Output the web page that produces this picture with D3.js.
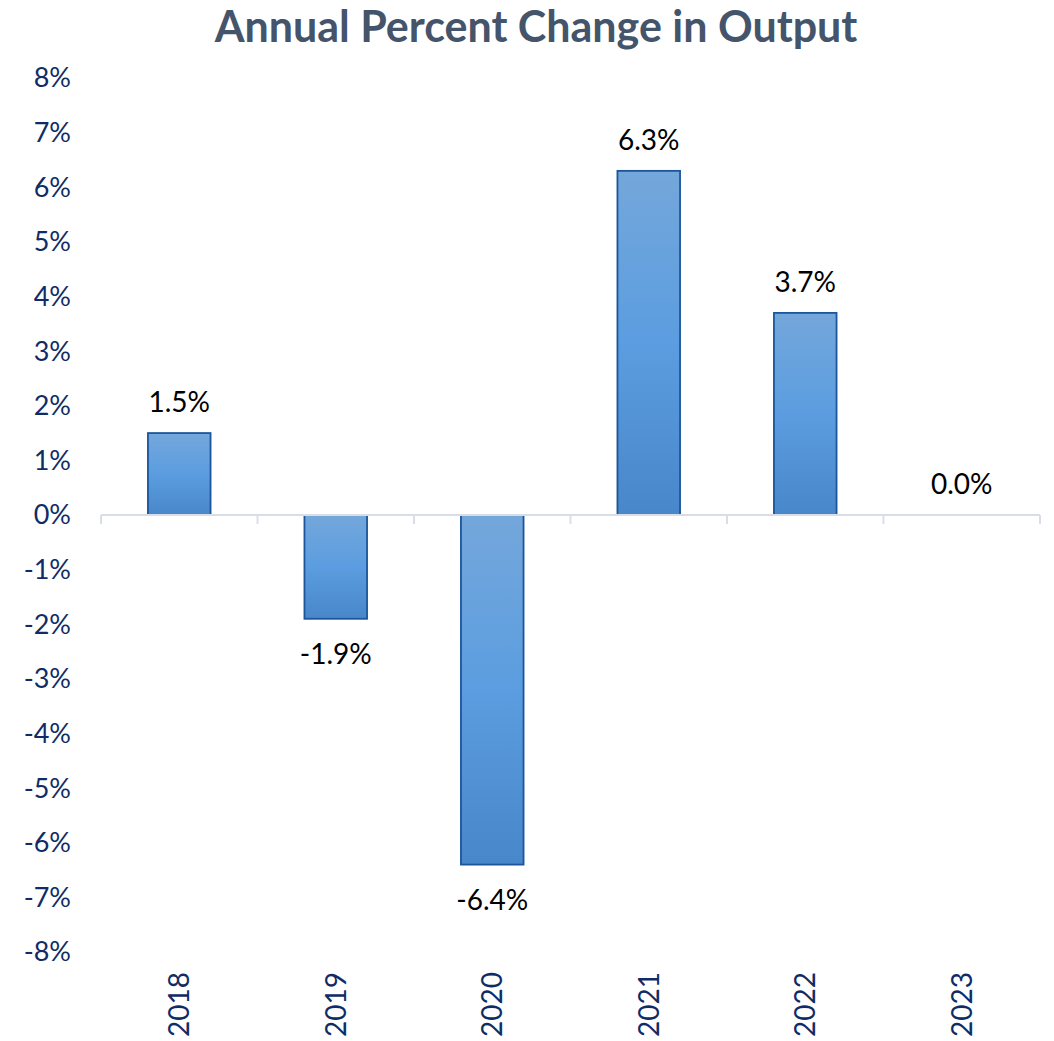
<!DOCTYPE html>
<html>
<head>
<meta charset="utf-8">
<script src="https://cdn.jsdelivr.net/npm/d3@7"></script>
<style>
  body { margin: 0; background: #fff; }
  svg { display: block; font-family: Lato, "Open Sans", sans-serif; }
</style>
</head>
<body>
<svg></svg>
<script>
const years = ["2018", "2019", "2020", "2021", "2022", "2023"];
const change = [1.5, -1.9, -6.4, 6.3, 3.7, 0.0];
const yTicks = [-8, -7, -6, -5, -4, -3, -2, -1, 0, 1, 2, 3, 4, 5, 6, 7, 8];

const width = 1054, height = 1041;
const svg = d3.select("svg").attr("width", width).attr("height", height);

const defs = svg.append("defs");
const grad = defs.append("linearGradient")
    .attr("id", "barFill")
    .attr("x1", 0).attr("y1", 0).attr("x2", 0).attr("y2", 1);
grad.append("stop").attr("offset", "0%").attr("stop-color", "#74a7db");
grad.append("stop").attr("offset", "50%").attr("stop-color", "#5b9de0");
grad.append("stop").attr("offset", "100%").attr("stop-color", "#4887c9");

const x = d3.scaleBand()
    .domain(years)
    .range([101, 1040])
    .paddingInner(0.6)
    .paddingOuter(0.3);

const xCat = d3.scaleBand().domain(years).range([101, 1040]).padding(0);

const y = d3.scaleLinear().domain([-8, 8]).range([952, 78]);

// title
svg.append("text")
    .attr("x", 536)
    .attr("y", 42)
    .attr("text-anchor", "middle")
    .style("font-size", "43px")
    .style("font-weight", "bold")
    .style("fill", "#44546a")
    .text("Annual Percent Change in Output");

// y axis labels
svg.append("g")
    .selectAll("text")
    .data(yTicks)
    .enter()
    .append("text")
    .attr("x", 71)
    .attr("y", d => y(d))
    .attr("dy", "0.35em")
    .attr("text-anchor", "end")
    .style("font-size", "27px")
    .style("fill", "#102c66")
    .text(d => d + "%");

// bars
svg.append("g")
    .selectAll("rect")
    .data(change)
    .enter()
    .append("rect")
    .attr("x", (d, i) => x(years[i]))
    .attr("width", x.bandwidth())
    .attr("y", d => y(Math.max(0, d)))
    .attr("height", d => Math.abs(y(d) - y(0)))
    .style("fill", "url(#barFill)")
    .style("stroke", d => d === 0 ? "none" : "#1c559b")
    .style("stroke-width", "1.8");

// category axis
const axis = svg.append("g").attr("transform", `translate(0,${y(0)})`);
axis.append("line")
    .attr("x1", 101).attr("x2", 1040)
    .style("stroke", "#d9dee6").style("stroke-width", "2");
axis.selectAll("line.tick")
    .data(years.concat(["end"]))
    .enter()
    .append("line")
    .attr("class", "tick")
    .attr("x1", (d, i) => i < years.length ? xCat(d) : xCat.range()[1])
    .attr("x2", (d, i) => i < years.length ? xCat(d) : xCat.range()[1])
    .attr("y1", 0).attr("y2", 9)
    .style("stroke", "#d9dee6").style("stroke-width", "2");

// year labels
svg.append("g")
    .selectAll("text")
    .data(years)
    .enter()
    .append("text")
    .attr("transform", d => `translate(${x(d) + x.bandwidth() / 2},972) rotate(-90)`)
    .attr("dy", "0.35em")
    .attr("text-anchor", "end")
    .style("font-size", "28px")
    .style("fill", "#102c66")
    .text(d => d);

// data labels
svg.append("g")
    .selectAll("text")
    .data(change)
    .enter()
    .append("text")
    .attr("x", (d, i) => x(years[i]) + x.bandwidth() / 2)
    .attr("y", d => d < 0 ? y(d) + 45 : y(d) - 21)
    .attr("text-anchor", "middle")
    .style("font-size", "28px")
    .style("fill", "#000")
    .text(d => d.toFixed(1) + "%");
</script>
</body>
</html>
